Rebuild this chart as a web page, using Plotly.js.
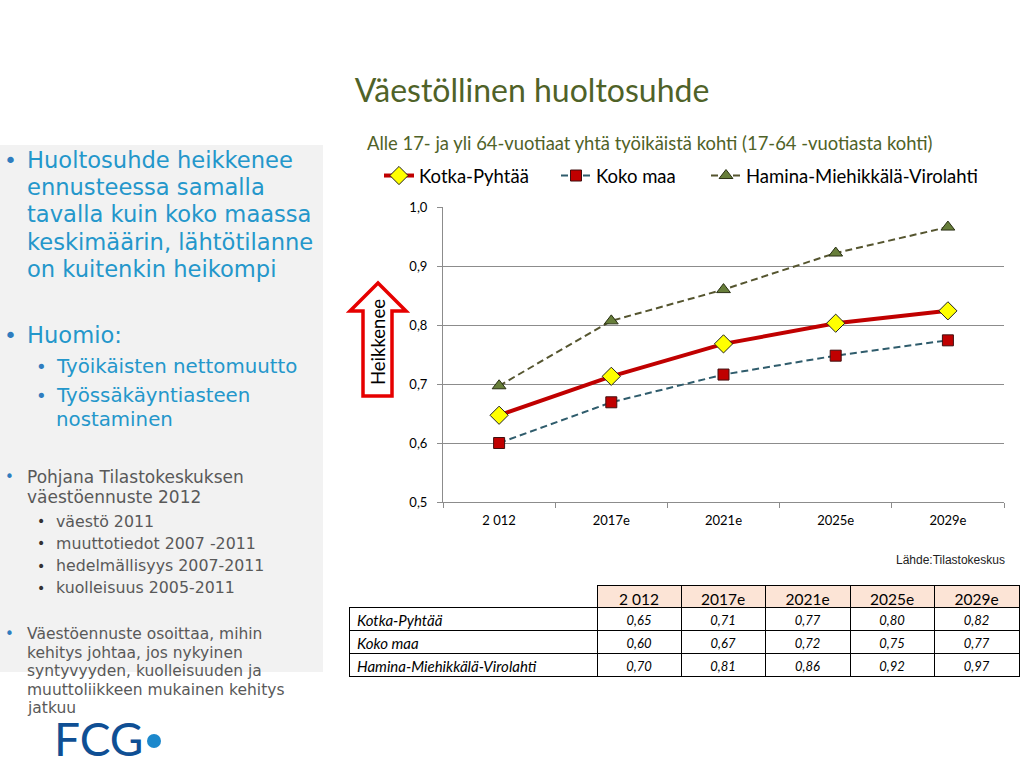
<!DOCTYPE html>
<html>
<head>
<meta charset="utf-8">
<script src="https://cdn.plot.ly/plotly-3.0.1.min.js"></script>
<style>
html,body{margin:0;padding:0;background:#fff;}
#chart{width:1024px;height:768px;}
</style>
</head>
<body>
<div id="chart"></div>
<script>
// ---- data ----
const categories = ['2 012', '2017e', '2021e', '2025e', '2029e'];
const seriesNames = ['Kotka-Pyhtää', 'Koko maa', 'Hamina-Miehikkälä-Virolahti'];
const kotka = [0.647, 0.713, 0.768, 0.803, 0.824];
const kokoMaa = [0.600, 0.669, 0.716, 0.748, 0.774];
const hamina = [0.697, 0.807, 0.860, 0.922, 0.966];
const yTicks = [0.5, 0.6, 0.7, 0.8, 0.9, 1.0];

// ---- helpers (pixel -> paper) ----
const W = 1024, H = 768;
const px = x => x / W;
const py = y => 1 - y / H;
const CAL = 'Lato, "Open Sans", sans-serif';
const VER = '"DejaVu Sans", Verdana, sans-serif';
const fmt = v => v.toFixed(2).replace('.', ',');
const nb = s => s.replace(/ /g, '\u00A0');

// ---- traces ----
const tKotka = {
  type: 'scatter', mode: 'lines+markers', name: seriesNames[0], legend: 'legend',
  x: categories, y: kotka,
  line: {color: '#C00000', width: 4},
  marker: {symbol: 'diamond', size: 14, color: '#FFFF00', line: {color: '#222', width: 1}},
  xaxis: 'x', yaxis: 'y'
};
const tKoko = {
  type: 'scatter', mode: 'lines+markers', name: seriesNames[1], legend: 'legend2',
  x: categories, y: kokoMaa,
  line: {color: '#2F5C6C', width: 2, dash: '7px,4px'},
  marker: {symbol: 'square', size: 11, color: '#C00000', line: {color: '#401010', width: 1}},
  xaxis: 'x', yaxis: 'y'
};
const tHamina = {
  type: 'scatter', mode: 'lines+markers', name: seriesNames[2], legend: 'legend3',
  x: categories, y: hamina,
  line: {color: '#55552F', width: 2, dash: '7px,4px'},
  marker: {symbol: 'triangle-up', size: 12, color: '#677E3A', line: {color: '#2A3015', width: 1}},
  xaxis: 'x', yaxis: 'y'
};

// table trace built from the same arrays
const rows = [kotka, kokoMaa, hamina];
const colValues = [seriesNames.map(nb)];
categories.forEach((c, i) => colValues.push(rows.map(r => fmt(r[i]))));
const tTable = {
  type: 'table',
  domain: {x: [px(349), px(1019)], y: [py(678), py(585)]},
  columnwidth: [248, 84, 84, 85, 84, 85],
  header: {
    values: [''].concat(categories.map(nb)),
    height: 22,
    fill: {color: ['rgba(0,0,0,0)', '#FCE4D6', '#FCE4D6', '#FCE4D6', '#FCE4D6', '#FCE4D6']},
    line: {color: ['rgba(0,0,0,0)', '#000', '#000', '#000', '#000', '#000'], width: 1},
    align: 'center',
    font: {family: CAL, size: 15.5, color: '#000'}
  },
  cells: {
    values: colValues,
    height: 23,
    fill: {color: '#fff'},
    line: {color: '#000', width: 1},
    align: ['left', 'center', 'center', 'center', 'center', 'center'],
    font: {family: CAL, size: [15, 13, 13, 13, 13, 13], color: '#000', style: 'italic'}
  }
};

// ---- annotations ----
const ann = [];
function txt(x, y, text, size, color, family, extra) {
  ann.push(Object.assign({
    xref: 'paper', yref: 'paper', x: px(x), y: py(y), text: text,
    showarrow: false, xanchor: 'left', yanchor: 'middle',
    font: {family: family || VER, size: size, color: color}
  }, extra || {}));
}
const BLUE = '#2497CB', BUL = '#2F7DBF', GREY = '#595959';
txt(2, 160, '•', 22, BUL);
['Huoltosuhde heikkenee', 'ennusteessa samalla', 'tavalla kuin koko maassa',
 'keskimäärin, lähtötilanne', 'on kuitenkin heikompi'].forEach((s, i) =>
  txt(25, 160 + i * 27.2, s, 22.6, BLUE));
txt(2, 335, '•', 22, BUL);
txt(25, 335, 'Huomio:', 22.6, BLUE);
txt(34, 366, '•', 18, BUL);
txt(54, 366, 'Työikäisten nettomuutto', 19.8, BLUE);
txt(34, 395, '•', 18, BUL);
txt(54, 395, 'Työssäkäyntiasteen', 19.8, BLUE);
txt(54, 419, 'nostaminen', 19.8, BLUE);
// grey bullets
txt(3, 477, '•', 15, BUL);
txt(25, 477, 'Pohjana Tilastokeskuksen', 17, GREY);
txt(25, 497, 'väestöennuste 2012', 17, GREY);
['väestö 2011', 'muuttotiedot 2007 -2011', 'hedelmällisyys 2007-2011', 'kuolleisuus 2005-2011']
  .forEach((s, i) => {
    txt(35, 521 + i * 22.3, '•', 14, '#333');
    txt(54, 521 + i * 22.3, s, 15.8, GREY);
  });
txt(3, 634, '•', 15, BUL);
['Väestöennuste osoittaa, mihin', 'kehitys johtaa, jos nykyinen', 'syntyvyyden, kuolleisuuden ja',
 'muuttoliikkeen mukainen kehitys', 'jatkuu'].forEach((s, i) =>
  txt(25, 634 + i * 18.6, s, 15.5, GREY));

// chart subtitle
txt(365, 143, 'Alle 17- ja yli 64-vuotiaat yhtä työikäistä kohti (17-64 -vuotiasta kohti)', 18.4, '#4F6228', CAL);
// arrow label
ann.push({xref: 'paper', yref: 'paper', x: px(378), y: py(342), text: 'Heikkenee',
  textangle: -90, showarrow: false, xanchor: 'center', yanchor: 'middle',
  font: {family: CAL, size: 18.5, color: '#000'}});
// source
ann.push({xref: 'paper', yref: 'paper', x: px(1007), y: py(560), text: 'Lähde:Tilastokeskus',
  showarrow: false, xanchor: 'right', yanchor: 'middle',
  font: {family: '"Liberation Sans", Arial, sans-serif', size: 12, color: '#222'}});
// logo
ann.push({xref: 'paper', yref: 'paper', x: px(52), y: py(738), text: 'FCG',
  showarrow: false, xanchor: 'left', yanchor: 'middle',
  font: {family: CAL, size: 46, color: '#0F4F94'}});

// ---- shapes ----
const arrowPts = [[378, 283], [406, 311], [392, 311], [392, 396], [363, 396], [363, 311], [350, 311]];
const arrowPath = 'M' + arrowPts.map(p => px(p[0]) + ',' + py(p[1])).join(' L') + ' Z';
const shapes = [
  {type: 'rect', xref: 'paper', yref: 'paper', x0: 0, x1: px(323), y0: py(672), y1: py(145),
   fillcolor: '#F2F2F2', line: {width: 0}, layer: 'below'},
  {type: 'path', xref: 'paper', yref: 'paper', path: arrowPath,
   fillcolor: '#FFFFFF', line: {color: '#E60000', width: 3.5}},
  {type: 'circle', xref: 'paper', yref: 'paper', x0: px(147), x1: px(161), y0: py(748), y1: py(734),
   fillcolor: '#1C88CC', line: {width: 0}}
];

const legBase = {orientation: 'h', yanchor: 'middle', xanchor: 'left', y: py(176),
  font: {family: CAL, size: 18.5, color: '#000'}, bgcolor: 'rgba(0,0,0,0)', borderwidth: 0};

const layout = {
  width: W, height: H,
  margin: {l: 0, r: 0, t: 0, b: 0},
  paper_bgcolor: '#fff', plot_bgcolor: '#fff',
  separators: ', ',
  title: {text: 'Väestöllinen huoltosuhde', x: px(532), y: py(91), xanchor: 'center', yanchor: 'middle',
    xref: 'paper', yref: 'paper', font: {family: CAL, size: 32, color: '#4F6228'}},
  showlegend: true,
  legend: Object.assign({}, legBase, {x: px(379)}),
  legend2: Object.assign({}, legBase, {x: px(556)}),
  legend3: Object.assign({}, legBase, {x: px(706)}),
  xaxis: {domain: [px(443), px(1004)], type: 'category', range: [-0.5, 4.5],
    showgrid: false, showline: true, linecolor: '#8C8C8C', linewidth: 1,
    ticks: 'outside', tickson: 'boundaries', ticklen: 5, tickcolor: '#8C8C8C',
    ticklabelstandoff: 6,
    tickfont: {family: CAL, size: 13, color: '#000'}, zeroline: false, fixedrange: true},
  yaxis: {domain: [py(502), py(207)], range: [0.5, 1.0], tickvals: yTicks, tickformat: '.1f',
    showgrid: true, gridcolor: '#8C8C8C', gridwidth: 1,
    showline: true, linecolor: '#8C8C8C', linewidth: 1,
    ticks: 'outside', ticklen: 5, tickcolor: '#8C8C8C',
    ticklabelstandoff: 7,
    tickfont: {family: CAL, size: 13, color: '#000'}, zeroline: false, fixedrange: true},
  annotations: ann,
  shapes: shapes
};

Plotly.newPlot('chart', [tKotka, tKoko, tHamina, tTable], layout, {displayModeBar: false, staticPlot: true});
</script>
</body>
</html>
